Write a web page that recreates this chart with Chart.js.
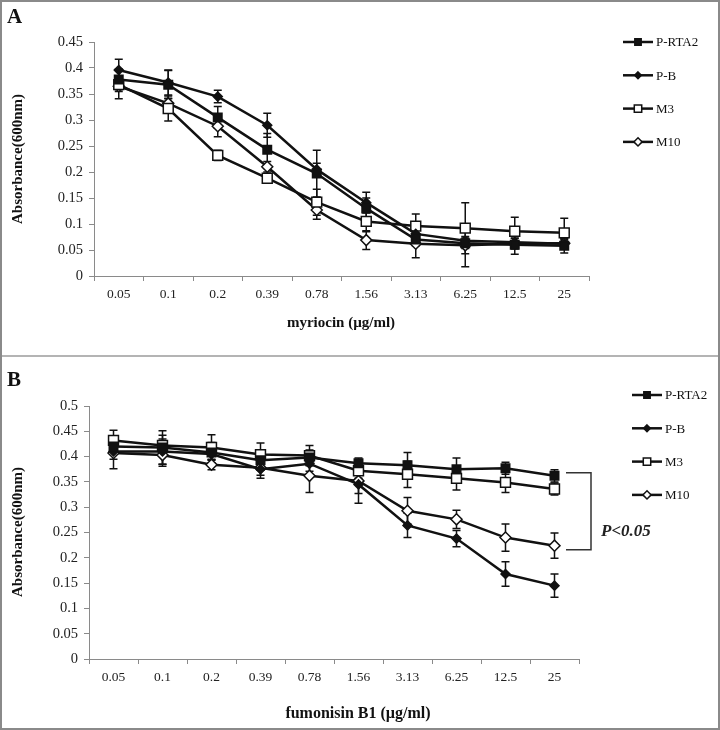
<!DOCTYPE html>
<html>
<head>
<meta charset="utf-8">
<script src="https://cdn.jsdelivr.net/npm/chart.js@4.4.1/dist/chart.umd.min.js"></script>
<style>
  html, body { margin: 0; padding: 0; background: #fff; }
  #wrap { position: relative; width: 720px; height: 730px; }
  #wrap canvas { position: absolute; left: 0; }
  #frame { position: absolute; left: 0; top: 0; width: 716px; height: 726px; border: 2px solid #8a8a8a; pointer-events: none; }
  #divider { position: absolute; left: 2px; top: 355px; width: 716px; height: 2px; background: #b4b4b4; }
</style>
</head>
<body>
<div id="wrap">
  <canvas id="chartA" width="720" height="356" style="top:0"></canvas>
  <canvas id="chartB" width="720" height="373" style="top:357px"></canvas>
  <div id="frame"></div>
  <div id="divider"></div>
</div>
<script>
const doses = ['0.05', '0.1', '0.2', '0.39', '0.78', '1.56', '3.13', '6.25', '12.5', '25'];
const seriesNames = ['P-RTA2', 'P-B', 'M3', 'M10'];

// panel A: myriocin
const myrPRTA2 = [0.378, 0.368, 0.305, 0.243, 0.197, 0.130, 0.070, 0.063, 0.060, 0.058];
const myrPB    = [0.396, 0.372, 0.345, 0.290, 0.205, 0.141, 0.081, 0.068, 0.065, 0.062];
const myrM3    = [0.368, 0.322, 0.232, 0.188, 0.142, 0.105, 0.096, 0.092, 0.086, 0.083];
const myrM10   = [0.365, 0.332, 0.288, 0.210, 0.127, 0.069, 0.062, 0.059, 0.062, 0.063];
const myrErrPRTA2 = [0.020, 0.027, 0.021, 0.031, 0.045, 0.020, 0.012, 0.010, 0.018, 0.014];
const myrErrPB    = [0.021, 0.024, 0.012, 0.023, 0.012, 0.020, 0.010, 0.008, 0.008, 0.008];
const myrErrM3    = [0.027, 0.024, 0.010, 0.007, 0.025, 0.020, 0.023, 0.049, 0.027, 0.028];
const myrErrM10   = [0.010, 0.010, 0.020, 0.010, 0.018, 0.018, 0.027, 0.041, 0.010, 0.010];

// panel B: fumonisin B1
const fumPRTA2 = [0.420, 0.418, 0.408, 0.393, 0.398, 0.387, 0.383, 0.375, 0.377, 0.362];
const fumPB    = [0.410, 0.410, 0.405, 0.375, 0.386, 0.345, 0.264, 0.238, 0.168, 0.145];
const fumM3    = [0.432, 0.422, 0.418, 0.404, 0.402, 0.372, 0.365, 0.357, 0.349, 0.336];
const fumM10   = [0.407, 0.403, 0.384, 0.378, 0.362, 0.352, 0.293, 0.276, 0.240, 0.224];
const fumErrPRTA2 = [0.015, 0.033, 0.020, 0.020, 0.015, 0.010, 0.025, 0.022, 0.012, 0.012];
const fumErrPB    = [0.015, 0.025, 0.010, 0.018, 0.015, 0.037, 0.024, 0.016, 0.024, 0.023];
const fumErrM3    = [0.020, 0.020, 0.025, 0.023, 0.020, 0.015, 0.026, 0.023, 0.020, 0.012];
const fumErrM10   = [0.031, 0.022, 0.010, 0.015, 0.033, 0.025, 0.026, 0.018, 0.027, 0.025];

// bracket spans these values at the last dose
const bracketRange = [0.368, 0.216];

const SERIF = '"Liberation Serif", "Times New Roman", serif';

// marker look per series: P-RTA2 filled square, P-B filled diamond, M3 open square, M10 open diamond
const markers = [
  {style: 'rect', radius: 6, fill: '#111'},
  {style: 'rectRot', radius: 4.5, fill: '#111'},
  {style: 'rect', radius: 7, fill: '#fff'},
  {style: 'rectRot', radius: 5.5, fill: '#fff'}
];

function makeDatasets(values, errors) {
  return values.map((v, i) => ({
    label: seriesNames[i],
    data: v,
    errors: errors[i],
    borderColor: '#111',
    borderWidth: 2.5,
    tension: 0,
    pointStyle: markers[i].style,
    pointRadius: markers[i].radius,
    pointBackgroundColor: markers[i].fill,
    pointBorderColor: '#111',
    pointBorderWidth: 1.5
  }));
}

function drawMarker(ctx, m, x, y) {
  ctx.save();
  ctx.fillStyle = m.fill;
  ctx.strokeStyle = '#111';
  ctx.lineWidth = 1.5;
  ctx.beginPath();
  if (m.style === 'rect') {
    const s = m.radius * Math.SQRT1_2;
    ctx.rect(x - s, y - s, 2 * s, 2 * s);
  } else {
    const r = m.radius;
    ctx.moveTo(x, y - r); ctx.lineTo(x + r, y); ctx.lineTo(x, y + r); ctx.lineTo(x - r, y); ctx.closePath();
  }
  ctx.fill();
  ctx.stroke();
  ctx.restore();
}

const errorBars = {
  id: 'errorBars',
  beforeDatasetsDraw(chart) {
    const ctx = chart.ctx;
    const ys = chart.scales.y;
    ctx.save();
    ctx.strokeStyle = '#111';
    ctx.lineWidth = 1.5;
    chart.data.datasets.forEach((ds, di) => {
      const meta = chart.getDatasetMeta(di);
      meta.data.forEach((pt, j) => {
        const e = ds.errors[j];
        const top = ys.getPixelForValue(ds.data[j] + e);
        const bot = ys.getPixelForValue(ds.data[j] - e);
        ctx.beginPath();
        ctx.moveTo(pt.x, top); ctx.lineTo(pt.x, bot);
        ctx.moveTo(pt.x - 4, top); ctx.lineTo(pt.x + 4, top);
        ctx.moveTo(pt.x - 4, bot); ctx.lineTo(pt.x + 4, bot);
        ctx.stroke();
      });
    });
    ctx.restore();
  }
};

const decorations = {
  id: 'decorations',
  afterDraw(chart) {
    const o = chart.options.plugins.decorations;
    const ctx = chart.ctx;
    const area = chart.chartArea;
    ctx.save();
    ctx.fillStyle = '#111';
    // panel letter
    ctx.font = 'bold 21px ' + SERIF;
    ctx.textBaseline = 'middle';
    ctx.textAlign = 'left';
    ctx.fillText(o.letter, 7, o.letterY);
    // x axis title
    ctx.font = 'bold ' + o.xTitleSize + 'px ' + SERIF;
    ctx.textAlign = 'center';
    ctx.fillText(o.xTitle, o.xTitleX, o.xTitleY);
    // y axis title
    ctx.save();
    ctx.translate(18, o.yTitleY);
    ctx.rotate(-Math.PI / 2);
    ctx.font = 'bold 15px ' + SERIF;
    ctx.fillText('Absorbance(600nm)', 0, 0);
    ctx.restore();
    // legend
    ctx.font = '13px ' + SERIF;
    ctx.textAlign = 'left';
    chart.data.datasets.forEach((ds, i) => {
      const y = o.legendY + i * 33.3;
      ctx.strokeStyle = '#111';
      ctx.lineWidth = 2.5;
      ctx.beginPath();
      ctx.moveTo(o.legendX, y); ctx.lineTo(o.legendX + 30, y);
      ctx.stroke();
      const m = markers[i];
      drawMarker(ctx, {style: m.style, radius: m.radius * 0.75, fill: m.fill}, o.legendX + 15, y);
      ctx.fillStyle = '#111';
      ctx.fillText(ds.label, o.legendX + 33, y + 1);
    });
    // significance bracket
    if (o.bracket) {
      const ys = chart.scales.y;
      const y1 = ys.getPixelForValue(bracketRange[0]);
      const y2 = ys.getPixelForValue(bracketRange[1]);
      const x1 = area.right - 13, x2 = area.right + 12;
      ctx.strokeStyle = '#333';
      ctx.lineWidth = 1.5;
      ctx.beginPath();
      ctx.moveTo(x1, y1); ctx.lineTo(x2, y1); ctx.lineTo(x2, y2); ctx.lineTo(x1, y2);
      ctx.stroke();
      ctx.font = 'italic bold 17px ' + SERIF;
      ctx.fillStyle = '#222';
      ctx.fillText('P<0.05', x2 + 10, (y1 + y2) / 2 + 20);
    }
    ctx.restore();
  }
};

function buildChart(id, values, errors, ymax, area, deco) {
  const canvasH = document.getElementById(id).height;
  return new Chart(id, {
    type: 'line',
    data: {labels: doses, datasets: makeDatasets(values, errors)},
    plugins: [errorBars, decorations],
    options: {
      responsive: false,
      animation: false,
      events: [],
      layout: {padding: {left: 0, top: area.top, right: 720 - area.right, bottom: canvasH - area.bottom - 40}},
      plugins: {legend: {display: false}, tooltip: {enabled: false}, decorations: deco},
      scales: {
        x: {
          offset: true,
          grid: {offset: true, drawOnChartArea: false, drawTicks: true, tickLength: 5, color: '#8a8a8a'},
          border: {color: '#8a8a8a', width: 1},
          ticks: {color: '#222', font: {family: SERIF, size: 13.5}, padding: 5, maxRotation: 0},
          afterFit(s) { s.height = 40; }
        },
        y: {
          min: 0, max: ymax,
          grid: {drawOnChartArea: false, drawTicks: true, tickLength: 5, color: '#8a8a8a'},
          border: {color: '#8a8a8a', width: 1},
          ticks: {
            stepSize: 0.05, color: '#222', font: {family: SERIF, size: 14.5}, padding: 6,
            callback: v => String(+v.toFixed(2))
          },
          afterFit(s) { s.width = area.left; }
        }
      }
    }
  });
}

buildChart('chartA',
  [myrPRTA2, myrPB, myrM3, myrM10],
  [myrErrPRTA2, myrErrPB, myrErrM3, myrErrM10],
  0.45,
  {left: 94, right: 589, top: 42, bottom: 276},
  {letter: 'A', letterY: 18, xTitle: 'myriocin (\u00b5g/ml)', xTitleSize: 15, xTitleX: 341, xTitleY: 323,
   yTitleY: 159, legendX: 623, legendY: 42, bracket: false});

buildChart('chartB',
  [fumPRTA2, fumPB, fumM3, fumM10],
  [fumErrPRTA2, fumErrPB, fumErrM3, fumErrM10],
  0.5,
  {left: 89, right: 579, top: 49, bottom: 302},
  {letter: 'B', letterY: 24, xTitle: 'fumonisin B1 (\u00b5g/ml)', xTitleSize: 16, xTitleX: 358, xTitleY: 357,
   yTitleY: 175, legendX: 632, legendY: 38, bracket: true});
</script>
</body>
</html>
